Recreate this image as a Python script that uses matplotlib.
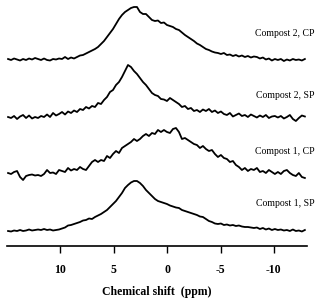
import matplotlib
matplotlib.use("Agg")
import matplotlib.pyplot as plt
import numpy as np

plt.rcParams["font.family"] = ["Liberation Serif", "DejaVu Serif"]
plt.rcParams["axes.unicode_minus"] = False

# chemical shift grid (ppm), left to right on the reversed axis
shift = np.linspace(14.9, -12.9, 100)

# intensities (arbitrary units, baseline ~0)
compost2_cp = [
    1, 0, 1.5, 0.5, -0.5, 1, 0, 1.5, 0.5, 2,
    1, 0, 1.5, 0, -0.5, 1, 0.5, 1.5, 1, 3,
    1, 2.5, 1.5, 3, 4.5, 5, 6.5, 8, 9.5, 11,
    13, 16, 19, 23, 27, 31, 36, 41, 45, 48,
    50, 52, 53, 53, 48, 46, 46, 43, 40, 39,
    39.5, 37, 37.5, 35, 34, 33, 31, 30, 27.5, 25,
    23, 21, 19, 16.5, 15, 13, 11, 10, 8.5, 7.5,
    7, 6, 7, 5, 5.5, 4, 5, 3.5, 4.5, 3,
    4, 2.5, 3.5, 3, 1.5, 2.5, 0.5, 1.5, -0.5, 1,
    0, 1, -1, 0.5, -0.5, 1, 0, 0.5, -0.5, 1,
]
compost2_sp = [
    1, 0, 2, -1, 1.5, 3, 0, 2.5, -0.5, 1,
    0, 2, 1, 3.5, 1, 5, 2.5, 4, 6, 3.5,
    6.5, 5, 7.5, 6, 9, 8, 11, 9.5, 12, 11,
    15, 14, 18, 21, 26, 28, 33, 36, 41, 47,
    53, 51, 47, 44, 40, 36, 33, 29, 25, 23,
    22, 19, 18.5, 17, 20, 18, 16, 14, 11, 12,
    9, 10, 7, 8, 6, 8.5, 7, 9, 6, 7.5,
    5, 6.5, 4, 3, 5, 1.5, 3, 4.5, 2, 3,
    1, 3.5, 2, 0.5, 2.5, 1, 3, 0, 1.5, 2,
    0.5, 2, -0.5, 1, 3, -1, -3, 0, 2.5, 1.5,
]
compost1_cp = [
    2, 1, 3, 4, -2, -5, -1, 0, 0.5, -0.5,
    0, -1, 1, 5, 2, 2.5, 1, 5, 4, 3,
    7, 4.5, 6, 5, 8, 6, 5, 9, 13, 15,
    13, 15, 14, 19, 17, 21, 24, 22, 27, 29,
    31, 33, 36, 34, 36, 39, 41, 39, 42, 41,
    45, 43, 45, 43, 42, 46, 47, 43, 36, 37,
    35, 33, 31, 30, 27, 29, 26, 24, 25, 21,
    18, 20, 17, 16, 13, 14, 10, 8, 5, 7,
    4, 6, 5, 7, 3, 4, 2, 5, 3, 1,
    3, 1, 4, 5, 2, 0, -1, 2, -2, -3,
]
compost1_sp = [
    0, -0.5, 0.5, 0, 1, 0, 0.5, 1.5, 0.5, 1,
    1.5, 1, 2, 1, 1.5, 0.5, 1, 1.5, 2.5, 3.5,
    5.5, 6, 7, 8, 9, 10.5, 11, 12.5, 12, 14,
    15.5, 17, 19, 21, 24, 27, 30, 34, 38, 43,
    46, 48.5, 50, 50, 48, 45, 41, 38, 35, 32,
    30, 29, 28, 27, 25.5, 24.5, 23.5, 23, 21, 20,
    19, 18, 17, 16, 14.5, 14, 12, 10, 9, 7.5,
    7, 7.5, 6, 6.5, 5.5, 6, 5, 5.5, 4.5, 4,
    4, 3.5, 3, 3.5, 2, 3, 1.5, 2.5, 1, 2,
    1, 1.5, 0.5, 1, 0, 1.5, 0, 0.5, -0.5, 1,
]

names = ["Compost 2, CP", "Compost 2, SP", "Compost 1, CP", "Compost 1, SP"]
spectra = [compost2_cp, compost2_sp, compost1_cp, compost1_sp]
offsets = [186, 128, 71, 15]
label_y = [212, 150, 95, 42]
ticks = [10, 5, 0, -5, -10]

fig = plt.figure(figsize=(3.17, 3.0), dpi=100)
ax = fig.add_axes([7 / 317, 54 / 300, 300 / 317, 246 / 300])

for spec, off, name, ly in zip(spectra, offsets, names, label_y):
    ax.plot(shift, np.array(spec) + off, color="black", lw=1.3)
    ax.text(-13.8, ly, name, ha="right", va="center", fontsize=7)

ax.set_xlim(15, -13.1)
ax.set_ylim(0, 246)
ax.set_xticks(ticks)
ax.set_xticklabels([str(t) for t in ticks], fontsize=8.5, fontweight="bold")
ax.tick_params(axis="x", direction="out", length=5, width=1, pad=8)
ax.set_yticks([])
for side in ["left", "right", "top"]:
    ax.spines[side].set_visible(False)
ax.spines["bottom"].set_linewidth(1.2)
ax.set_xlabel("Chemical shift  (ppm)", fontsize=8.5, fontweight="bold", labelpad=7)

fig.savefig("out.png", dpi=100)
